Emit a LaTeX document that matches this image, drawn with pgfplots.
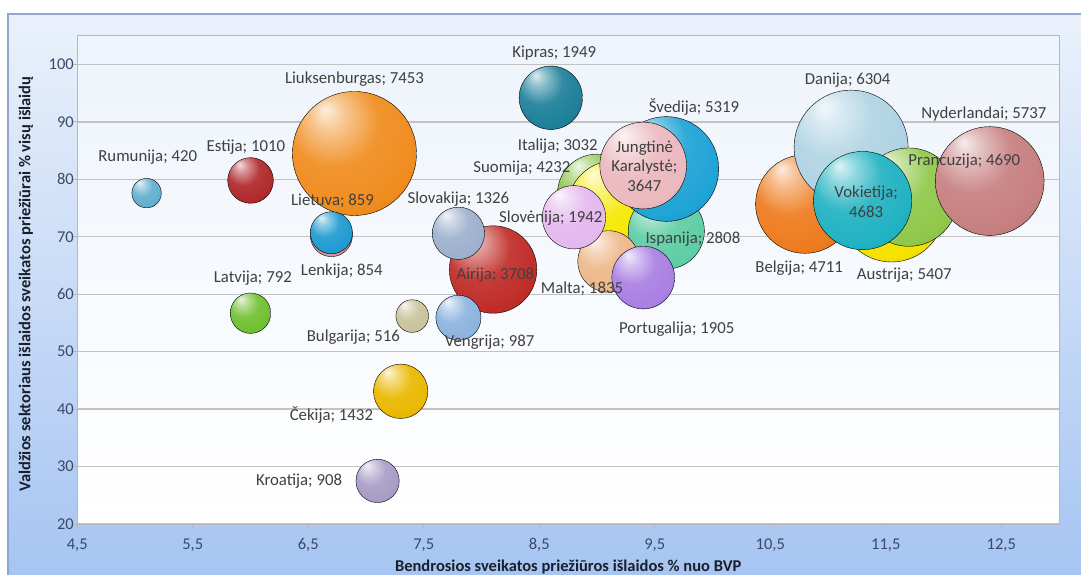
\documentclass[border=0pt]{standalone}
\usepackage{pgfplots}
\pgfplotsset{compat=1.18}
\usepackage{fontspec}
\setmainfont{Carlito}

% frame, background and text colours
\definecolor{framecol}{HTML}{8EA6D0}
\definecolor{bgtop}{HTML}{EAF1FB}
\definecolor{bgbot}{HTML}{A5C4F2}
\definecolor{plottop}{HTML}{EEF4FC}
\definecolor{gridcol}{HTML}{C2C2C2}
\definecolor{axcol}{HTML}{B8B8B8}
\definecolor{tickcol}{HTML}{3A4966}
\definecolor{titlecol}{HTML}{1B1F2B}
\definecolor{labcol}{HTML}{404040}

% bubble colours
\definecolor{luxcol}{HTML}{F08C1E}
\definecolor{rumcol}{HTML}{62AECF}
\definecolor{estcol}{HTML}{B0282A}
\definecolor{latcol}{HTML}{70C030}
\definecolor{crocol}{HTML}{A89CC6}
\definecolor{czcol}{HTML}{E9B800}
\definecolor{cypcol}{HTML}{1D7F99}
\definecolor{polcol}{HTML}{E0909C}
\definecolor{ltcol}{HTML}{1E9BD0}
\definecolor{bgcol}{HTML}{C8C39C}
\definecolor{iecol}{HTML}{C02C28}
\definecolor{skcol}{HTML}{9DB0CC}
\definecolor{hucol}{HTML}{8CB3DE}
\definecolor{itcol}{HTML}{86C040}
\definecolor{ficol}{HTML}{F5E800}
\definecolor{escol}{HTML}{5FCDA5}
\definecolor{secol}{HTML}{1FA3D6}
\definecolor{ukcol}{HTML}{EBB8BE}
\definecolor{mtcol}{HTML}{EDB88A}
\definecolor{sicol}{HTML}{E4B8EE}
\definecolor{ptcol}{HTML}{A97FE3}
\definecolor{atcol}{HTML}{F6E200}
\definecolor{becol}{HTML}{EE7B1E}
\definecolor{dkcol}{HTML}{AFD3E3}
\definecolor{frcol}{HTML}{90C84A}
\definecolor{decol}{HTML}{20B2C2}
\definecolor{nlcol}{HTML}{C77F80}

% spherical shading for the bubbles
\colorlet{bubcol}{blue}
\pgfdeclareradialshading[bubcol]{bubble}{\pgfqpoint{-12bp}{18bp}}{%
  color(0bp)=(bubcol!15!white);
  color(7bp)=(bubcol!50!white);
  color(18bp)=(bubcol!92!white);
  color(32bp)=(bubcol);
  color(48bp)=(bubcol!78!black);
  color(60bp)=(bubcol!58!black)}
\def\spherecol{blue}
\tikzset{sphere color/.code={\def\spherecol{#1}}}
\pgfdeclareplotmark{sphere}{%
  \colorlet{bubcol}{\spherecol}%
  \shade[shading=bubble] (0pt,0pt) circle[radius=\pgfplotmarksize];}

% one bubble: x, y, value, colour (area proportional to the value)
\newcommand{\bubble}[4]{%
  \addplot[only marks, mark=sphere, sphere color=#4,
    mark size={62*sqrt(#3/7453)}] coordinates {(#1,#2)};}
% anchor of a data label, kept for drawing after the axis
\newcommand{\lblpos}[3]{\coordinate (#1) at (axis cs:#2,#3);}
% a data label, set on top of all bubbles
\newcommand{\lbl}[2]{%
  \node[font=\fontsize{16.8}{19.5}\selectfont, text=labcol, align=center,
    inner sep=0pt] at (#1) {#2};}

\begin{document}
\begin{tikzpicture}[x=1pt,y=1pt]
\useasboundingbox (0,0) rectangle (1081,574);
\shade[top color=bgtop, bottom color=bgbot, draw=framecol, line width=1.5pt]
  (8,-10) rectangle (1095,560);
\begin{axis}[
  at={(77.3pt,50pt)}, anchor=south west,
  scale only axis, width=981.7pt, height=488.3pt,
  xmin=4.5, xmax=13, ymin=20, ymax=105,
  xtick={4.5,5.5,6.5,7.5,8.5,9.5,10.5,11.5,12.5},
  ytick={20,30,40,50,60,70,80,90,100},
  axis background/.style={top color=plottop, bottom color=white},
  axis line style={draw=axcol, line width=0.8pt},
  ymajorgrids, major grid style={draw=gridcol, line width=1.3pt},
  tick align=outside, tick pos=left,
  major tick length=5pt,
  major tick style={draw=axcol, line width=0.8pt},
  /pgf/number format/assume math mode=true,
  ticklabel style={font=\fontsize{16.5}{19}\selectfont, text=tickcol},
  xticklabel style={yshift=-6pt, /pgf/number format/.cd, fixed,
    fixed zerofill, precision=1, use comma},
  yticklabel style={xshift=5pt, /pgf/number format/.cd, fixed, precision=0},
  xlabel={Bendrosios sveikatos priežiūros išlaidos \% nuo BVP},
  ylabel={Valdžios sektoriaus išlaidos sveikatos priežiūrai \% visų išlaidų},
  label style={font=\bfseries\fontsize{16.5}{19}\selectfont, text=titlecol},
  xlabel style={at={(axis description cs:0.5,-0.088)}, anchor=center},
  ylabel style={at={(axis description cs:-0.0523,0.4915)}, anchor=center},
]
\bubble{6.9}{84.5}{7453}{luxcol}
\bubble{5.1}{77.6}{420}{rumcol}
\bubble{6.0}{79.8}{1010}{estcol}
\bubble{6.0}{56.7}{792}{latcol}
\bubble{7.1}{27.5}{908}{crocol}
\bubble{7.3}{43.1}{1432}{czcol}
\bubble{8.6}{94.2}{1949}{cypcol}
\bubble{6.7}{70.2}{854}{polcol}
\bubble{6.7}{70.7}{859}{ltcol}
\bubble{7.4}{56.2}{516}{bgcol}
\bubble{8.1}{64.3}{3708}{iecol}
\bubble{7.8}{70.6}{1326}{skcol}
\bubble{7.8}{55.9}{987}{hucol}
\bubble{9.0}{77.5}{3032}{itcol}
\bubble{9.15}{75.1}{4232}{ficol}
\bubble{9.6}{71.0}{2808}{escol}
\bubble{9.6}{81.8}{5319}{secol}
\bubble{9.4}{82.4}{3647}{ukcol}
\bubble{9.1}{65.7}{1835}{mtcol}
\bubble{8.8}{73.4}{1942}{sicol}
\bubble{9.4}{62.9}{1905}{ptcol}
\bubble{11.55}{74.8}{5407}{atcol}
\bubble{10.8}{75.7}{4711}{becol}
\bubble{11.2}{85.6}{6304}{dkcol}
\bubble{11.7}{76.9}{4690}{frcol}
\bubble{11.3}{76.3}{4683}{decol}
\bubble{12.4}{79.7}{5737}{nlcol}

\lblpos{rum}{5.11}{83.9}
\lblpos{est}{5.96}{85.6}
\lblpos{lux}{6.90}{97.4}
\lblpos{lt}{6.71}{76.3}
\lblpos{pl}{6.79}{64.1}
\lblpos{lv}{6.02}{62.8}
\lblpos{sk}{7.80}{76.5}
\lblpos{cy}{8.63}{101.9}
\lblpos{it}{8.66}{85.8}
\lblpos{fi}{8.35}{81.9}
\lblpos{se}{9.84}{92.6}
\lblpos{uk}{9.41}{82.3}
\lblpos{si}{8.60}{73.2}
\lblpos{es}{9.83}{69.5}
\lblpos{ie}{8.12}{63.3}
\lblpos{mt}{8.87}{61.0}
\lblpos{pt}{9.69}{53.9}
\lblpos{bg}{6.89}{52.5}
\lblpos{hu}{8.07}{51.7}
\lblpos{cz}{6.70}{39.0}
\lblpos{hr}{6.42}{27.4}
\lblpos{dk}{11.17}{97.2}
\lblpos{nl}{12.35}{91.3}
\lblpos{fr}{12.18}{83.2}
\lblpos{de}{11.33}{76.1}
\lblpos{be}{10.75}{64.6}
\lblpos{at}{11.66}{63.4}
\end{axis}

\lbl{rum}{Rumunija; 420}
\lbl{est}{Estija; 1010}
\lbl{lux}{Liuksenburgas; 7453}
\lbl{lt}{Lietuva; 859}
\lbl{pl}{Lenkija; 854}
\lbl{lv}{Latvija; 792}
\lbl{sk}{Slovakija; 1326}
\lbl{cy}{Kipras; 1949}
\lbl{it}{Italija; 3032}
\lbl{fi}{Suomija; 4232}
\lbl{se}{Švedija; 5319}
\lbl{uk}{Jungtinė\\Karalystė;\\3647}
\lbl{si}{Slovėnija; 1942}
\lbl{es}{Ispanija; 2808}
\lbl{ie}{Airija; 3708}
\lbl{mt}{Malta; 1835}
\lbl{pt}{Portugalija; 1905}
\lbl{bg}{Bulgarija; 516}
\lbl{hu}{Vengrija; 987}
\lbl{cz}{Čekija; 1432}
\lbl{hr}{Kroatija; 908}
\lbl{dk}{Danija; 6304}
\lbl{nl}{Nyderlandai; 5737}
\lbl{fr}{Prancuzija; 4690}
\lbl{de}{Vokietija;\\4683}
\lbl{be}{Belgija; 4711}
\lbl{at}{Austrija; 5407}
\end{tikzpicture}
\end{document}
